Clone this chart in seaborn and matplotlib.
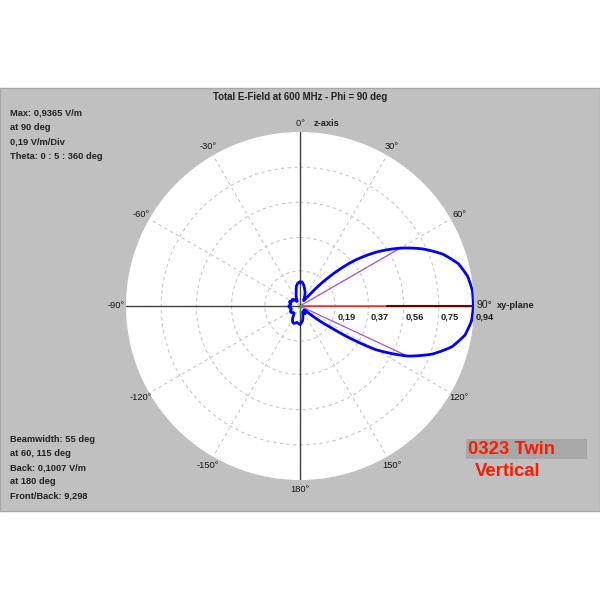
import numpy as np
import pandas as pd
import matplotlib
matplotlib.use("Agg")
import matplotlib.pyplot as plt
from matplotlib.patches import Rectangle
import seaborn as sns

# pattern data, theta measured clockwise from z-axis
theta_deg = list(range(0, 360, 5))
efield = [
    0.13, 0.13, 0.115, 0.095, 0.08, 0.06, 0.04, 0.035, 0.07, 0.22,
    0.38, 0.51, 0.625, 0.73, 0.82, 0.885, 0.92, 0.935, 0.9365, 0.93,
    0.905, 0.85, 0.76, 0.64, 0.47, 0.20, 0.04, 0.03, 0.04, 0.05,
    0.045, 0.035, 0.045, 0.06, 0.08, 0.09, 0.1007, 0.095, 0.09, 0.095,
    0.10, 0.095, 0.08, 0.06, 0.05, 0.05, 0.055, 0.06, 0.06, 0.055,
    0.05, 0.05, 0.055, 0.06, 0.06, 0.055, 0.05, 0.055, 0.06, 0.06,
    0.05, 0.05, 0.055, 0.05, 0.04, 0.03, 0.03, 0.045, 0.06, 0.08,
    0.11, 0.125,
]
rings = [0.19, 0.37, 0.56, 0.75, 0.94]
ring_labels = ["0,19", "0,37", "0,56", "0,75", "0,94"]
angle_ticks = list(range(0, 360, 30))
angle_labels = ["0°", "30°", "60°", "90°", "120°", "150°", "180°",
                "-150°", "-120°", "-90°", "-60°", "-30°"]
beam_angles = [60, 115]
back_marker = 0.03
r_max = rings[-1]

info_top = ["Max: 0,9365 V/m", "at 90 deg", "0,19 V/m/Div", "Theta: 0 : 5 : 360 deg"]
info_bottom = ["Beamwidth: 55 deg", "at 60, 115 deg", "Back: 0,1007 V/m",
               "at 180 deg", "Front/Back: 9,298"]
title = "Total E-Field at 600 MHz - Phi = 90 deg"

sns.set_style("white")
plt.rcParams["font.family"] = ["Liberation Sans", "DejaVu Sans"]

# close the curve at 360 deg so it does not wrap back
df = pd.DataFrame({
    "theta": np.deg2rad(theta_deg + [360]),
    "r": efield + [efield[0]],
})

fig = plt.figure(figsize=(6, 6), dpi=100)
fig.patch.set_facecolor("white")
fig.add_artist(Rectangle((0, 0.148), 1, 0.705, transform=fig.transFigure,
                         facecolor="#c0c0c0", edgecolor="#a8a8a8", lw=1, zorder=-1))

ax = fig.add_axes([0.21, 0.2, 0.58, 0.58], projection="polar")
ax.set_theta_zero_location("N")
ax.set_theta_direction(-1)
ax.set_facecolor("white")
ax.spines["polar"].set_visible(False)

# axis cross
for a in [0, 90, 180, 270]:
    ax.plot([np.deg2rad(a)] * 2, [0, r_max], color="#404040", lw=1, zorder=2)
ax.plot([np.pi / 2] * 2, [0, r_max], color="#ff3b3b", lw=1.2, zorder=3)
ax.plot([np.pi / 2] * 2, [0.47, r_max], color="#6a0000", lw=1.5, zorder=3)

# half power lines
for a in beam_angles:
    r = efield[theta_deg.index(a)]
    ax.plot([np.deg2rad(a)] * 2, [0, r], color="#b050c0", lw=0.9, zorder=3)
ax.plot([np.pi] * 2, [0, back_marker], color="#20a020", lw=1, zorder=3)

sns.lineplot(data=df, x="theta", y="r", ax=ax, sort=False, estimator=None,
             color="#0000ff", lw=2, zorder=4)
# draw segments as curves in polar space
ax.lines[-1].get_path()._interpolation_steps = 10
ax.set_xlabel("")
ax.set_ylabel("")
ax.set_ylim(0, r_max)
ax.set_yticks(rings[:-1])
ax.set_yticklabels([])
ax.set_xticks(np.deg2rad(angle_ticks))
ax.set_xticklabels([])
ax.grid(True, color="#c8c8c8", linestyle=(0, (3, 3)), linewidth=0.8)

# angle labels
for a, lbl in zip(angle_ticks, angle_labels):
    if a == 0:
        ax.annotate(lbl + "  ", xy=(0, r_max), xytext=(-4, 8), textcoords="offset pixels",
                    ha="left", va="center", fontsize=6.7, color="#202020")
        ax.annotate("z-axis", xy=(0, r_max), xytext=(14, 8), textcoords="offset pixels",
                    ha="left", va="center", fontsize=6.7, fontweight="bold", color="#202020")
    elif a == 90:
        ax.annotate(lbl, xy=(np.pi / 2, r_max), xytext=(3, 1), textcoords="offset pixels",
                    ha="left", va="center", fontsize=7.5, color="#202020")
        ax.annotate("xy-plane", xy=(np.pi / 2, r_max), xytext=(23, 1), textcoords="offset pixels",
                    ha="left", va="center", fontsize=6.7, fontweight="bold", color="#202020")
    else:
        ax.text(np.deg2rad(a), r_max * 1.057, lbl, ha="center", va="center",
                fontsize=6.7, color="#151515")

# ring labels
for r, lbl in zip(rings, ring_labels):
    ax.annotate(lbl, xy=(np.pi / 2, r), xytext=(2, -11), textcoords="offset pixels",
                ha="left", va="center", fontsize=6.7, fontweight="bold", color="#202020")

fig.text(0.5, 1 - 97 / 600, title, ha="center", va="center",
         fontsize=6.9, fontweight="bold", color="#202020")
for i, s in enumerate(info_top):
    fig.text(10 / 600, 1 - (113 + 14.5 * i) / 600, s, ha="left", va="center",
             fontsize=6.7, fontweight="bold", color="#202020")
for i, s in enumerate(info_bottom):
    fig.text(10 / 600, 1 - (440 + 14 * i) / 600, s, ha="left", va="center",
             fontsize=6.7, fontweight="bold", color="#202020")

fig.add_artist(Rectangle((466 / 600, 1 - 459 / 600), 121 / 600, 20 / 600,
                         transform=fig.transFigure, facecolor="#a8a8a8",
                         edgecolor="none", zorder=1))
fig.text(468 / 600, 1 - 449 / 600, "0323 Twin", ha="left", va="center",
         fontsize=13.3, fontweight="bold", color="#ff1a00", zorder=2)
fig.text(475 / 600, 1 - 472 / 600, "Vertical", ha="left", va="center",
         fontsize=13.3, fontweight="bold", color="#ff1a00", zorder=2)

fig.savefig("out.png", dpi=100, facecolor="white")
